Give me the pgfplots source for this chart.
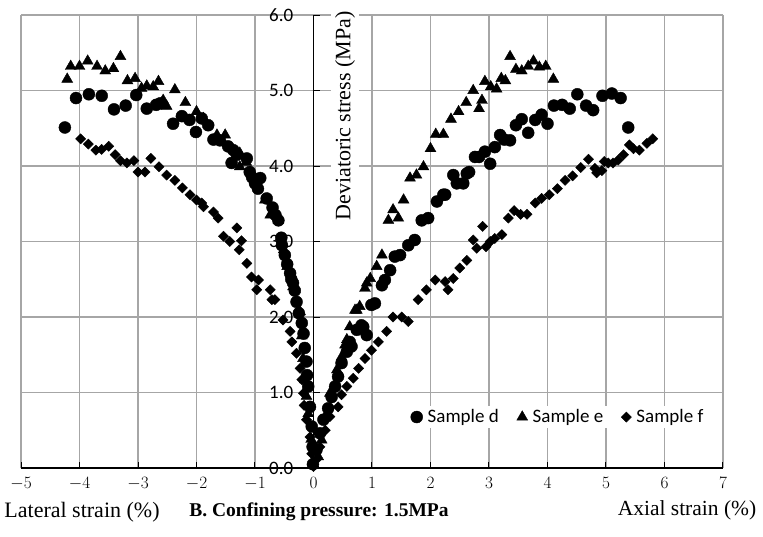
\documentclass[border=0pt]{standalone}
\usepackage{fontspec}
\setmainfont{Liberation Serif}
\newfontfamily\carlito{Carlito}
\usepackage{pgfplots}
\pgfplotsset{compat=1.18}
\begin{document}
\begin{tikzpicture}
\useasboundingbox (0pt,0pt) rectangle (763pt,536pt);
\begin{axis}[
  at={(21pt,68pt)}, anchor=south west,
  scale only axis, width=702pt, height=453pt,
  xmin=-5, xmax=7, ymin=0, ymax=6,
  axis lines=middle,
  axis line style={-, black, line width=1.5pt},
  xtick={-5,...,7}, ytick={0,...,6},
  yticklabels={0.0,1.0,2.0,3.0,4.0,5.0,6.0},
  hide obscured x ticks=false, hide obscured y ticks=false,
  grid=major, grid style={color=black!35, line width=1.1pt},
  xtick style={black, line width=1pt}, xtick align=inside,
  ytick style={black, line width=1pt}, ytick align=inside,
  major tick length=6pt,
  xticklabel style={font=\fontsize{17}{20}\selectfont, yshift=-6pt},
  yticklabel style={font=\carlito\fontsize{19}{21}\selectfont, inner sep=1pt, anchor=east, xshift=-19pt},
  clip=false,
  legend style={at={(axis cs:4.18,0.675)}, anchor=center, draw=none, fill=white,
    font=\carlito\fontsize{19}{22}\selectfont, legend columns=3,
    /tikz/every odd column/.append style={column sep=3pt},
    /tikz/every even column/.append style={column sep=16pt}},
  legend cell align=left,
]
\addplot[only marks, mark=*, mark size=6pt, draw=black, fill=black] table {
x y
-4.25 4.51
-4.06 4.90
-3.84 4.95
-3.62 4.93
-3.41 4.75
-3.21 4.80
-3.03 4.94
-2.85 4.76
-2.69 4.81
-2.62 4.83
-2.40 4.56
-2.25 4.66
-2.12 4.61
-2.01 4.45
-1.91 4.63
-1.80 4.54
-1.71 4.35
-1.60 4.34
-1.46 4.26
-1.40 4.04
-1.31 4.15
-1.37 4.21
-1.14 4.10
-1.09 3.92
-1.05 3.85
-1.00 3.77
-0.95 3.70
-0.91 3.84
-0.80 3.57
-0.70 3.45
-0.65 3.35
-0.60 3.28
-0.55 3.05
-0.54 2.95
-0.49 2.82
-0.45 2.70
-0.40 2.58
-0.38 2.50
-0.35 2.45
-0.32 2.35
-0.29 2.20
-0.25 2.05
-0.20 1.92
-0.17 1.78
-0.15 1.59
-0.12 1.41
-0.11 1.23
-0.09 1.08
-0.06 0.81
-0.03 0.55
-0.015 0.28
-0.01 0.05
0.05 0.24
0.11 0.46
0.17 0.64
0.25 0.79
0.31 0.94
0.37 1.08
0.42 1.21
0.48 1.39
0.57 1.54
0.62 1.67
0.65 1.61
0.74 1.83
0.82 1.89
0.85 1.87
0.91 1.76
0.99 2.16
1.05 2.18
1.17 2.42
1.22 2.49
1.31 2.62
1.39 2.80
1.48 2.82
1.62 2.95
1.73 3.02
1.85 3.28
1.96 3.31
2.11 3.53
2.22 3.62
2.25 3.62
2.39 3.88
2.45 3.77
2.56 3.77
2.62 3.90
2.66 3.92
2.76 4.12
2.83 4.12
2.93 4.19
3.02 4.03
3.10 4.25
3.19 4.41
3.26 4.35
3.36 4.34
3.46 4.54
3.56 4.62
3.67 4.44
3.79 4.61
3.90 4.68
4.00 4.56
4.11 4.80
4.25 4.81
4.38 4.76
4.51 4.95
4.66 4.80
4.78 4.74
4.94 4.93
5.10 4.96
5.25 4.90
5.38 4.51
};
\addlegendentry{Sample d}
\addplot[only marks, mark=triangle*, mark size=6.3pt, draw=black, fill=black] table {
x y
-4.21 5.15
-4.15 5.32
-4.00 5.32
-3.86 5.39
-3.70 5.32
-3.56 5.26
-3.42 5.29
-3.30 5.45
-3.18 5.13
-3.05 5.16
-2.94 5.03
-2.85 5.06
-2.74 5.05
-2.65 5.12
-2.57 4.87
-2.51 4.79
-2.37 5.01
-2.19 4.84
-2.00 4.72
-1.88 4.63
-1.65 4.41
-1.51 4.41
-1.26 4.17
-1.26 3.99
-1.15 4.05
-0.83 3.55
-0.74 3.35
-0.69 3.39
-0.60 3.28
-0.51 2.89
-0.45 2.67
-0.35 2.40
-0.32 2.36
-0.26 2.09
-0.23 2.07
-0.20 1.75
-0.18 1.45
-0.15 1.17
-0.12 0.95
-0.09 0.72
-0.04 0.38
-0.01 0.08
0.08 0.15
0.14 0.37
0.20 0.68
0.28 0.99
0.40 1.30
0.48 1.47
0.54 1.63
0.57 1.70
0.62 1.87
0.71 2.09
0.74 2.09
0.79 2.14
0.88 2.38
0.91 2.45
0.97 2.51
1.08 2.67
1.17 2.82
1.28 3.28
1.36 3.42
1.45 3.31
1.54 3.55
1.65 3.84
1.76 3.88
1.88 3.99
2.00 4.23
2.09 4.42
2.22 4.42
2.35 4.62
2.48 4.72
2.61 4.84
2.73 5.00
2.83 4.76
2.88 4.87
2.93 5.12
3.03 5.05
3.13 5.02
3.21 5.16
3.28 5.13
3.36 5.45
3.46 5.28
3.56 5.26
3.67 5.32
3.76 5.39
3.86 5.31
3.97 5.32
4.10 5.15
};
\addlegendentry{Sample e}
\addplot[only marks, mark=square*, mark size=3.6pt, mark options={rotate=45}, draw=black, fill=black] table {
x y
-3.98 4.36
-3.85 4.29
-3.72 4.21
-3.62 4.22
-3.50 4.26
-3.39 4.15
-3.30 4.07
-3.19 4.04
-3.07 4.07
-3.00 3.92
-2.88 3.92
-2.78 4.10
-2.64 3.99
-2.51 3.88
-2.37 3.81
-2.24 3.71
-2.11 3.62
-2.00 3.55
-1.91 3.51
-1.88 3.46
-1.71 3.39
-1.63 3.31
-1.54 3.07
-1.43 3.00
-1.31 3.18
-1.23 3.01
-1.27 2.89
-1.14 2.71
-1.06 2.53
-0.94 2.49
-0.97 2.36
-0.74 2.36
-0.71 2.23
-0.66 2.23
-0.52 1.96
-0.40 1.81
-0.37 1.67
-0.29 1.52
-0.23 1.32
-0.20 1.17
-0.17 0.99
-0.16 0.83
-0.12 0.64
-0.06 0.41
-0.03 0.19
0.00 0.02
0.05 0.11
0.11 0.28
0.20 0.50
0.28 0.68
0.42 0.81
0.48 0.97
0.57 1.08
0.68 1.19
0.77 1.32
0.88 1.45
0.99 1.56
1.11 1.67
1.25 1.81
1.36 2.00
1.51 2.00
1.62 1.94
1.79 2.23
1.93 2.36
2.08 2.49
2.25 2.47
2.30 2.36
2.39 2.51
2.50 2.65
2.62 2.75
2.73 3.02
2.79 2.91
2.89 3.20
2.95 2.93
3.02 3.00
3.10 3.04
3.22 3.09
3.33 3.31
3.43 3.41
3.54 3.36
3.65 3.36
3.79 3.51
3.90 3.57
4.03 3.62
4.17 3.70
4.30 3.81
4.43 3.87
4.57 3.98
4.70 4.09
4.81 3.97
4.84 3.91
4.93 3.94
4.97 4.06
5.04 4.04
5.12 4.04
5.21 4.08
5.30 4.15
5.40 4.28
5.47 4.23
5.57 4.21
5.70 4.30
5.80 4.36
};
\addlegendentry{Sample f}
\end{axis}
\node[font=\fontsize{22}{25}\selectfont] at (82pt,24pt) {Lateral strain (\%)};
\node[font=\bfseries\fontsize{19.5}{23}\selectfont] at (319pt,24pt) {B. Confining pressure: 1.5MPa};
\node[font=\fontsize{21.5}{25}\selectfont] at (687pt,26pt) {Axial strain (\%)};
\node[rotate=90, fill=white, inner sep=4pt, font=\fontsize{22}{26}\selectfont] at (345pt,420pt) {Deviatoric stress (MPa)};
\end{tikzpicture}
\end{document}
